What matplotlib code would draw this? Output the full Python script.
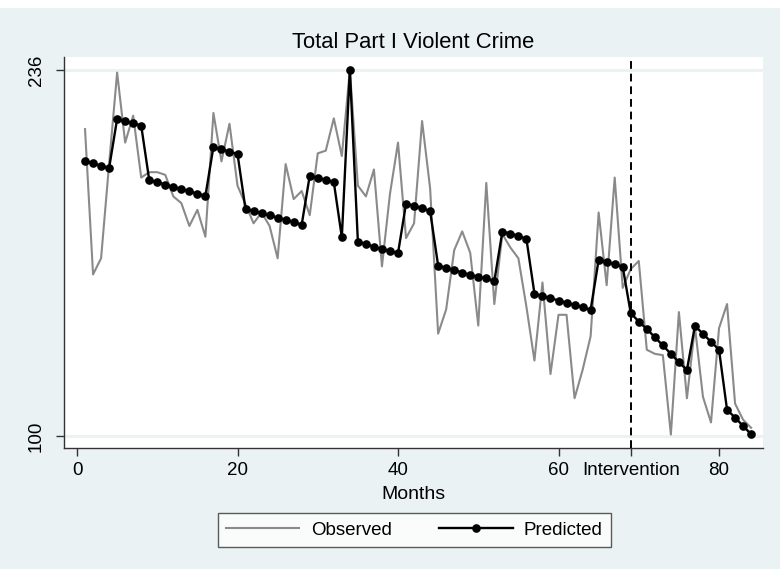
import matplotlib
matplotlib.use("Agg")
import matplotlib.pyplot as plt
from matplotlib.lines import Line2D

months = list(range(1, 85))
observed = [214, 160, 166, 201, 235, 209, 219, 196, 198, 198,
            197, 189, 186.5, 178, 184, 174, 220, 202, 216, 193,
            186, 179, 183, 178, 166, 201, 188, 191, 182, 205,
            206, 218, 204, 236, 193, 189, 199, 163, 190, 209,
            173.5, 179, 217, 192, 138, 147, 169, 176, 168, 141,
            194, 149, 175, 170, 166, 148, 128, 157, 123, 145,
            145, 114, 124.5, 137, 183, 156, 196, 155, 162, 165,
            132, 130.5, 130, 100.5, 146, 114, 140.5, 114.5, 105, 140,
            149, 112, 106, 103]
predicted = [202.2, 201.3, 200.4, 199.5, 217.8, 216.9, 216.2, 215.3, 195.1, 194.3,
             193.4, 192.5, 191.8, 190.9, 190.0, 189.2, 207.4, 206.5, 205.6, 204.8,
             184.2, 183.6, 182.7, 181.9, 181.1, 180.3, 179.5, 178.5, 196.7, 195.9,
             195.1, 194.3, 173.8, 236.0, 172.2, 171.3, 170.3, 169.4, 168.7, 167.9,
             186.3, 185.5, 184.6, 183.5, 163.3, 162.4, 161.7, 160.7, 159.8, 159.1,
             158.5, 157.5, 175.9, 175.2, 174.3, 173.2, 152.9, 152.0, 151.2, 150.3,
             149.5, 148.7, 147.8, 146.8, 165.4, 164.7, 163.8, 162.8, 145.6, 142.5,
             139.7, 136.7, 133.6, 130.5, 127.4, 124.5, 140.9, 137.9, 135.0, 132.0,
             109.7, 106.8, 103.7, 100.6]

intervention = 69
x_ticks = [0, 20, 40, 60, intervention, 80]
x_ticklabels = ["0", "20", "40", "60", "Intervention", "80"]
y_ticks = [100, 236]

bg = "#EAF2F3"
plt.rcParams['font.family'] = ['Liberation Sans', 'DejaVu Sans']

fig = plt.figure(figsize=(7.8, 5.69), dpi=100)
fig.patch.set_facecolor(bg)
# white strip at very top
fig.patches.append(plt.Rectangle((0, 1 - 8 / 569), 1, 8 / 569, transform=fig.transFigure,
                                 facecolor="white", edgecolor="none", zorder=0))

ax = fig.add_axes([64 / 780, 1 - 448 / 569, (763 - 64) / 780, (448 - 57) / 569])
ax.set_facecolor("white")

for yv in y_ticks:
    ax.axhline(yv, color=bg, lw=2.2, zorder=1)

ax.plot(months, observed, color="#8a8a8a", lw=1.5, zorder=2)
ax.plot(months, predicted, color="black", lw=1.7, marker="o", markersize=5.2, zorder=3)
ax.axvline(intervention, color="black", lw=1.4, ls=(0, (4, 2.5)), zorder=4)

ax.set_xlim(-1.62, 85.48)
ax.set_ylim(95.5, 240.8)
ax.set_xticks(x_ticks)
ax.set_xticklabels(x_ticklabels)
ax.set_yticks(y_ticks)
ax.set_yticklabels([str(v) for v in y_ticks], rotation=90, va="center")

for s in ["top", "right"]:
    ax.spines[s].set_visible(False)
for s in ["left", "bottom"]:
    ax.spines[s].set_color("#333333")
    ax.spines[s].set_linewidth(1.0)
ax.tick_params(axis="both", direction="out", length=6, width=1.0, color="#333333",
               labelsize=13.5, labelcolor="black")
ax.tick_params(axis="x", pad=4)
ax.tick_params(axis="y", pad=8)

ax.set_xlabel("Months", fontsize=14, labelpad=1)
ax.xaxis.set_label_coords(0.5, -0.098)
fig.text((64 + 763) / 2 / 780, 1 - 43 / 569, "Total Part I Violent Crime",
         ha="center", va="center", fontsize=15.8)

handles = [Line2D([], [], color="#8a8a8a", lw=1.5),
           Line2D([], [], color="black", lw=1.7, marker="o", markersize=5.2)]
leg = fig.legend(handles, ["Observed", "Predicted"], loc="center",
                 bbox_to_anchor=(414.5 / 780, (569 - 530) / 569), ncol=2,
                 fontsize=13.5, frameon=True, fancybox=False, handlelength=3.9,
                 columnspacing=2.55, handletextpad=0.6, borderpad=0.45)
leg.get_frame().set_edgecolor("#333333")
leg.get_frame().set_linewidth(1.0)
leg.get_frame().set_facecolor("white")

fig.savefig("out.png", dpi=100, facecolor=fig.get_facecolor())
